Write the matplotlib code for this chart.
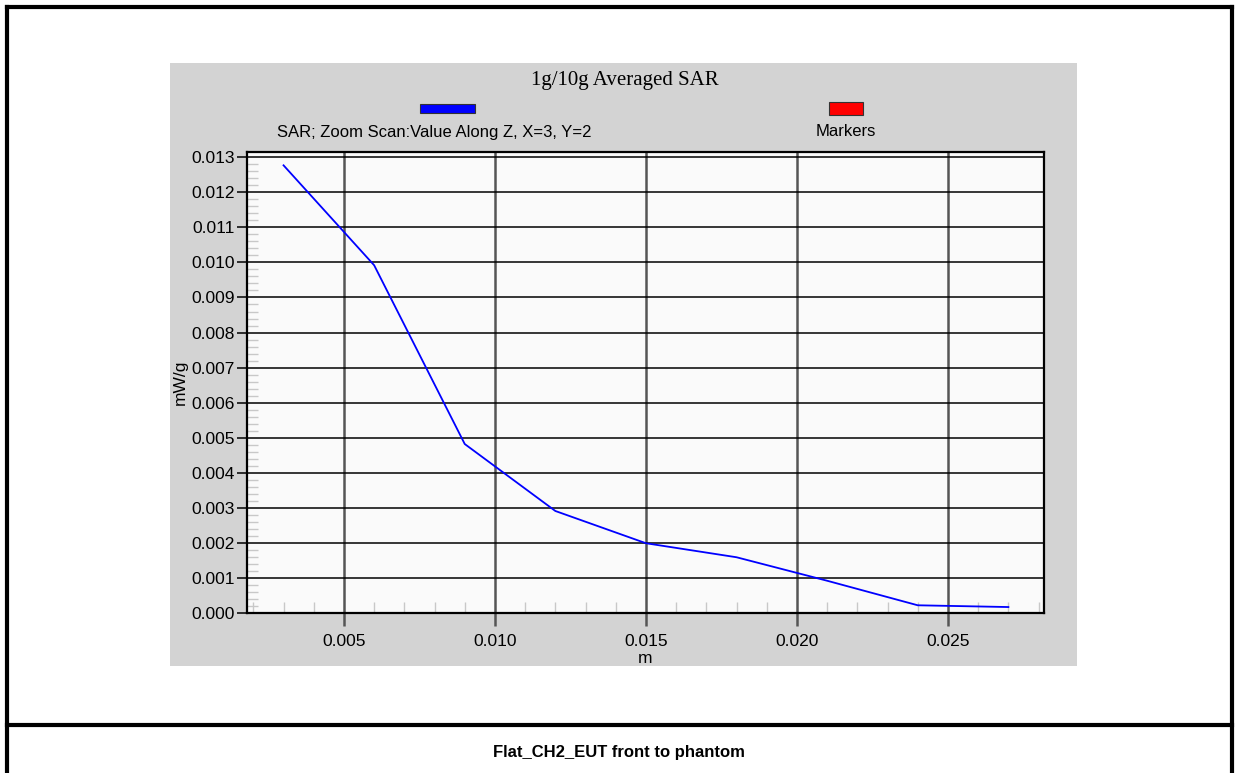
import matplotlib
matplotlib.use("Agg")
import matplotlib.pyplot as plt
from matplotlib.patches import Rectangle
from matplotlib.lines import Line2D
from matplotlib.ticker import MultipleLocator, FormatStrFormatter

# SAR values along Z (zoom scan, X=3, Y=2)
z_m = [0.003, 0.006, 0.009, 0.012, 0.015, 0.018, 0.021, 0.024, 0.027]
sar = [0.01277, 0.00992, 0.00482, 0.00291, 0.00199, 0.00159, 0.00092, 0.00022, 0.00017]

title = "1g/10g Averaged SAR"
series_label = "SAR; Zoom Scan:Value Along Z, X=3, Y=2"
marker_label = "Markers"
caption = "Flat_CH2_EUT front to phantom"

W, H = 1237, 773
fig = plt.figure(figsize=(W / 100, H / 100), dpi=100)
fig.patch.set_facecolor("white")

def fx(px):
    return px / W

def fy(py):
    return 1 - py / H

# gray panel behind the chart
fig.patches.append(Rectangle((fx(170), fy(666)), fx(1077) - fx(170), fy(63) - fy(666),
                             transform=fig.transFigure, facecolor="#d3d3d3",
                             edgecolor="none", zorder=-10))

# outer frame and caption separator
for xs, ys in [([7, 7], [7, 773]), ([1232, 1232], [7, 773]), ([7, 1232], [7, 7]), ([7, 1232], [725, 725])]:
    fig.lines.append(Line2D([fx(x) for x in xs], [fy(y) for y in ys],
                            transform=fig.transFigure, color="black", lw=3))

ax = fig.add_axes([fx(247), fy(613), fx(1044) - fx(247), fy(152) - fy(613)])
ax.set_facecolor("#fafafa")
ax.plot(z_m, sar, color="#0000ff", lw=1.3, zorder=3)

ax.set_xlim(0.00179, 0.02818)
ax.set_ylim(0, 0.01315)

ax.xaxis.set_major_locator(MultipleLocator(0.005))
ax.yaxis.set_major_locator(MultipleLocator(0.001))
ax.xaxis.set_minor_locator(MultipleLocator(0.001))
ax.yaxis.set_minor_locator(MultipleLocator(0.0002))
ax.xaxis.set_major_formatter(FormatStrFormatter("%.3f"))
ax.yaxis.set_major_formatter(FormatStrFormatter("%.3f"))

ax.grid(axis="x", which="major", color="#555555", lw=1.8, zorder=1)
ax.grid(axis="y", which="major", color="black", lw=1.1, zorder=1)
ax.tick_params(axis="x", which="major", direction="out", length=9, width=1.8,
               color="#555555", labelsize=12.5, pad=6)
ax.tick_params(axis="y", which="major", direction="out", length=7, width=1.1,
               color="black", labelsize=12.5, pad=2)
ax.tick_params(axis="both", which="minor", direction="in", length=8, width=1,
               color="#c8c8c8")
for lbl in ax.get_xticklabels() + ax.get_yticklabels():
    lbl.set_fontfamily("Liberation Sans")
for sp in ax.spines.values():
    sp.set_color("black")
    sp.set_linewidth(1.6)

ax.set_xlabel("m", fontsize=12.5, family="Liberation Sans")
ax.xaxis.set_label_coords(0.5, -0.082)
ax.set_ylabel("mW/g", fontsize=12.5, family="Liberation Sans")
ax.yaxis.set_label_coords(-0.074, 0.5)

fig.text(fx(625), fy(81), title, ha="center", va="center",
         fontsize=15, family="Liberation Serif")

# legend swatches
fig.patches.append(Rectangle((fx(420), fy(113)), fx(475) - fx(420), fy(104) - fy(113),
                             transform=fig.transFigure, facecolor="#0000ff",
                             edgecolor="#333333", lw=0.8))
fig.patches.append(Rectangle((fx(829), fy(115)), fx(863) - fx(829), fy(102) - fy(115),
                             transform=fig.transFigure, facecolor="#ff0000",
                             edgecolor="#333333", lw=0.8))
fig.text(fx(277), fy(132), series_label, ha="left", va="center",
         fontsize=12, family="Liberation Sans")
fig.text(fx(846), fy(132), marker_label, ha="center", va="center",
         fontsize=12, family="Liberation Sans")

fig.text(fx(619), fy(752), caption, ha="center", va="center",
         fontsize=12, fontweight="bold", family="Liberation Sans")

fig.savefig("out.png", dpi=100, facecolor="white")
